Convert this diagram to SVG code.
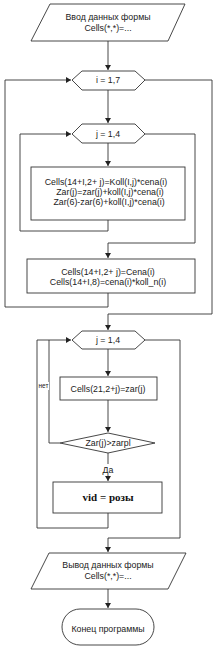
<svg xmlns="http://www.w3.org/2000/svg" width="215" height="653" viewBox="0 0 215 653">
<defs>
<marker id="ah" markerWidth="6" markerHeight="6" refX="5" refY="3" orient="auto" markerUnits="userSpaceOnUse">
<path d="M0,0 L5,3 L0,6 Z" fill="#222"/>
</marker>
<style>
.s{fill:#fff;stroke:#333;stroke-width:0.9}
.c{fill:none;stroke:#333;stroke-width:0.9}
.t{font-family:"Liberation Sans",Arial,sans-serif;font-size:8.8px;fill:#222;text-anchor:middle}
.sm{font-family:"Liberation Sans",Arial,sans-serif;font-size:6.5px;fill:#222;text-anchor:middle}
.sr{font-family:"Liberation Serif","Times New Roman",serif;font-size:11px;fill:#111;text-anchor:middle;font-weight:bold}
</style>
</defs>
<rect width="215" height="653" fill="#fff"/>
<g id="connectors">
<path class="c" d="M108,41 V70" marker-end="url(#ah)"/>
<path class="c" d="M108,90 V123" marker-end="url(#ah)"/>
<path class="c" d="M108,143 V166" marker-end="url(#ah)"/>
<path class="c" d="M108,220 V231 H20 V134 H71" marker-end="url(#ah)"/>
<path class="c" d="M145,134 H195 V243 H108 V258" marker-end="url(#ah)"/>
<path class="c" d="M108,293 V307 H5 V80 H71" marker-end="url(#ah)"/>
<path class="c" d="M145,80 H212 V314 H108 V330" marker-end="url(#ah)"/>
<path class="c" d="M108,349 V376" marker-end="url(#ah)"/>
<path class="c" d="M108,400 V432" marker-end="url(#ah)"/>
<path class="c" d="M60,443 H49 V340"/>
<path class="c" d="M108,513 V528 H37 V340 H71" marker-end="url(#ah)"/>
<path class="c" d="M108,453 V481" marker-end="url(#ah)"/>
<path class="c" d="M145,340 H180 V538 H108 V552" marker-end="url(#ah)"/>
<path class="c" d="M108,589 V608" marker-end="url(#ah)"/>
<rect x="100" y="464" width="16" height="11" fill="#fff"/>
<text class="t" x="108" y="473">Да</text>
<rect x="38" y="382" width="11" height="8" fill="#fff"/>
<text class="sm" x="43.5" y="388">нет</text>
</g>
<g id="input">
<polygon class="s" points="50,4 185,4 168,41 31,41"/>
<text class="t" x="108" y="20">Ввод данных формы</text>
<text class="t" x="108" y="31">Cells(*,*)=...</text>
</g>
<g id="loop-i">
<polygon class="s" points="72,80 82,71 135,71 145,80 135,90 82,90"/>
<text class="t" x="108" y="83">i  = 1,7</text>
</g>
<g id="loop-j1">
<polygon class="s" points="72,134 82,124 135,124 145,134 135,143 82,143"/>
<text class="t" x="108" y="137">j = 1,4</text>
</g>
<g id="calc1">
<rect class="s" x="31" y="167" width="154" height="53"/>
<text class="t" x="106" y="185">Cells(14+I,2+ j)=Koll(I,j)*cena(i)</text>
<text class="t" x="110" y="195">Zar(j)=zar(j)+koll(I,j)*cena(i)</text>
<text class="t" x="109" y="205">Zar(6)-zar(6)+koll(I,j)*cena(i)</text>
</g>
<g id="calc2">
<rect class="s" x="27" y="259" width="168" height="34"/>
<text class="t" x="108" y="275">Cells(14+I,2+ j)=Cena(i)</text>
<text class="t" x="108" y="285">Cells(14+I,8)=cena(i)*koll_n(i)</text>
</g>
<g id="loop-j2">
<polygon class="s" points="72,340 82,331 135,331 145,340 135,349 82,349"/>
<text class="t" x="108" y="343">j = 1,4</text>
</g>
<g id="calc3">
<rect class="s" x="60" y="377" width="97" height="23"/>
<text class="t" x="108" y="392">Cells(21,2+j)=zar(j)</text>
</g>
<g id="decision">
<polygon class="s" points="108,433 155,443 108,453 60,443"/>
<text class="t" x="108" y="446">Zar(j)&gt;zarpl</text>
</g>
<g id="assign">
<rect class="s" x="53" y="482" width="109" height="31"/>
<text class="sr" x="108" y="501">vid = розы</text>
</g>
<g id="output">
<polygon class="s" points="49,553 186,553 168,589 31,589"/>
<text class="t" x="108" y="568">Вывод данных формы</text>
<text class="t" x="108" y="579">Cells(*,*)=...</text>
</g>
<g id="end">
<rect class="s" x="62" y="609" width="92" height="36" rx="18" ry="18"/>
<text class="t" x="108" y="632">Конец программы</text>
</g>
</svg>
